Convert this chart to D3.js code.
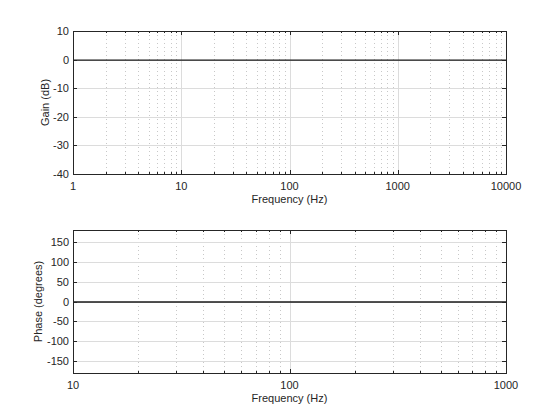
<!DOCTYPE html>
<html>
<head>
<meta charset="utf-8">
<script src="https://cdn.jsdelivr.net/npm/d3@7"></script>
<style>
  body { margin: 0; background: #fff; }
  svg { display: block; font-family: "Liberation Sans", Arial, sans-serif; }
  .tick-label { font-size: 11px; fill: #262626; }
  .axis-title { font-size: 11px; fill: #262626; }
</style>
</head>
<body>
<div id="chart"></div>
<script>
// magnitude response (flat)
var gainFreq = [1, 10, 100, 1000, 10000];
var gainDb = [0, 0, 0, 0, 0];
var gainTicks = [-40, -30, -20, -10, 0, 10];
var gainFreqTicks = [1, 10, 100, 1000, 10000];

// phase response (flat)
var phaseFreq = [10, 100, 1000];
var phaseDeg = [0, 0, 0];
var phaseTicks = [-150, -100, -50, 0, 50, 100, 150];
var phaseFreqTicks = [10, 100, 1000];

var width = 560, height = 420;
var svg = d3.select("#chart").append("svg").attr("width", width).attr("height", height);

function minorTicks(lo, hi) {
  var out = [];
  for (var dec = lo; dec < hi; dec *= 10) {
    for (var k = 2; k <= 9; k++) out.push(dec * k);
  }
  return out;
}

function drawPanel(opts) {
  var x = d3.scaleLog().domain(opts.xDomain).range([opts.left, opts.right]);
  var y = d3.scaleLinear().domain(opts.yDomain).range([opts.bottom, opts.top]);
  var g = svg.append("g");

  // minor grid (dotted)
  g.selectAll(".minor").data(minorTicks(opts.xDomain[0], opts.xDomain[1])).enter().append("line")
    .attr("x1", function (d) { return Math.round(x(d)) + 0.5; })
    .attr("x2", function (d) { return Math.round(x(d)) + 0.5; })
    .attr("y1", opts.top).attr("y2", opts.bottom)
    .attr("stroke", "#c8c8c8").attr("stroke-width", 1).attr("stroke-dasharray", "1,3");

  // major grid
  g.selectAll(".vmaj").data(opts.xTicks).enter().append("line")
    .attr("x1", function (d) { return Math.round(x(d)) + 0.5; })
    .attr("x2", function (d) { return Math.round(x(d)) + 0.5; })
    .attr("y1", opts.top).attr("y2", opts.bottom)
    .attr("stroke", "#dcdcdc").attr("stroke-width", 1);
  g.selectAll(".hmaj").data(opts.yTicks).enter().append("line")
    .attr("x1", opts.left).attr("x2", opts.right)
    .attr("y1", function (d) { return Math.round(y(d)) + 0.5; })
    .attr("y2", function (d) { return Math.round(y(d)) + 0.5; })
    .attr("stroke", "#dcdcdc").attr("stroke-width", 1);

  // data line
  var line = d3.line().x(function (d) { return x(d[0]); }).y(function (d) { return y(d[1]) + 0.5; });
  g.append("path").datum(d3.zip(opts.freq, opts.values))
    .attr("d", line).attr("fill", "none").attr("stroke", "#1a1a1a").attr("stroke-width", 1.3);

  // inward ticks
  var ticks = g.append("g").attr("stroke", "#262626");
  minorTicks(opts.xDomain[0], opts.xDomain[1]).forEach(function (d) {
    var px = Math.round(x(d)) + 0.5;
    ticks.append("line").attr("x1", px).attr("x2", px).attr("y1", opts.bottom).attr("y2", opts.bottom - 2);
    ticks.append("line").attr("x1", px).attr("x2", px).attr("y1", opts.top).attr("y2", opts.top + 2);
  });
  opts.xTicks.forEach(function (d) {
    var px = Math.round(x(d)) + 0.5;
    ticks.append("line").attr("x1", px).attr("x2", px).attr("y1", opts.bottom).attr("y2", opts.bottom - 4);
    ticks.append("line").attr("x1", px).attr("x2", px).attr("y1", opts.top).attr("y2", opts.top + 4);
  });
  opts.yTicks.forEach(function (d) {
    var py = Math.round(y(d)) + 0.5;
    ticks.append("line").attr("x1", opts.left).attr("x2", opts.left + 4).attr("y1", py).attr("y2", py);
    ticks.append("line").attr("x1", opts.right).attr("x2", opts.right - 4).attr("y1", py).attr("y2", py);
  });

  // box
  g.append("rect").attr("x", opts.left + 0.5).attr("y", opts.top + 0.5)
    .attr("width", opts.right - opts.left).attr("height", opts.bottom - opts.top)
    .attr("fill", "none").attr("stroke", "#262626").attr("stroke-width", 1);

  // tick labels
  g.selectAll(".xl").data(opts.xTicks).enter().append("text")
    .attr("class", "tick-label").attr("x", function (d) { return x(d); })
    .attr("y", opts.bottom + 16).attr("text-anchor", "middle").text(function (d) { return d; });
  g.selectAll(".yl").data(opts.yTicks).enter().append("text")
    .attr("class", "tick-label").attr("x", opts.left - 4)
    .attr("y", function (d) { return y(d) + 4; }).attr("text-anchor", "end").text(function (d) { return d; });

  // titles
  g.append("text").attr("class", "axis-title")
    .attr("x", (opts.left + opts.right) / 2).attr("y", opts.bottom + 29)
    .attr("text-anchor", "middle").text("Frequency (Hz)");
  g.append("text").attr("class", "axis-title")
    .attr("transform", "translate(" + opts.ylabelX + "," + (opts.top + opts.bottom) / 2 + ") rotate(-90)")
    .attr("text-anchor", "middle").text(opts.ylabel);
}

drawPanel({
  left: 73, right: 506, top: 31, bottom: 174,
  xDomain: [1, 10000], yDomain: [-40, 10],
  xTicks: gainFreqTicks, yTicks: gainTicks,
  freq: gainFreq, values: gainDb,
  ylabel: "Gain (dB)", ylabelX: 49
});

drawPanel({
  left: 73, right: 506, top: 230, bottom: 373,
  xDomain: [10, 1000], yDomain: [-180, 180],
  xTicks: phaseFreqTicks, yTicks: phaseTicks,
  freq: phaseFreq, values: phaseDeg,
  ylabel: "Phase (degrees)", ylabelX: 42
});
</script>
</body>
</html>
